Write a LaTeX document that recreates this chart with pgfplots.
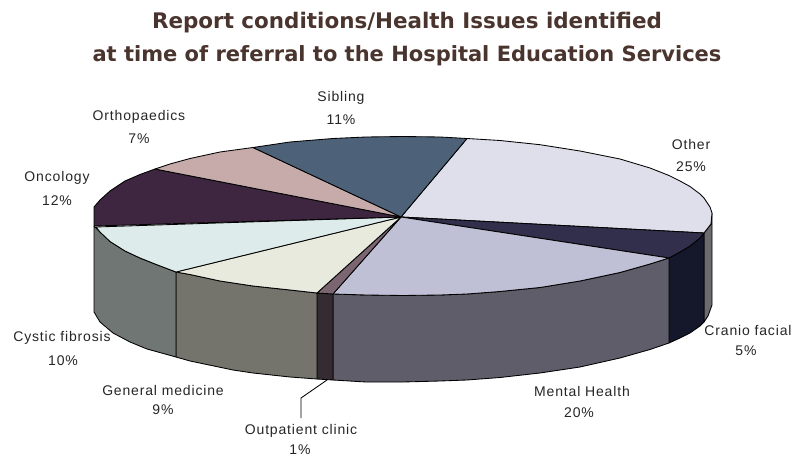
\documentclass[border=0pt]{standalone}
\usepackage{fontspec}
\usepackage{pgfplots}
\pgfplotsset{compat=1.18}
\setmainfont{Liberation Sans}
\newfontfamily\lab{Liberation Sans}[LetterSpace=6]
\newfontfamily\ttl{DejaVu Sans}[BoldFont={DejaVu Sans Bold}]
\definecolor{tt}{HTML}{4A342E}
\definecolor{cOther}{HTML}{DFDFEB}
\definecolor{cCran}{HTML}{312F4C}
\definecolor{cMent}{HTML}{BFC0D6}
\definecolor{cOut}{HTML}{7A6570}
\definecolor{cGen}{HTML}{E8EADE}
\definecolor{cCys}{HTML}{DEEBEB}
\definecolor{cOnc}{HTML}{3E2540}
\definecolor{cOrt}{HTML}{C7ABAB}
\definecolor{cSib}{HTML}{4D6278}
\definecolor{sCran}{HTML}{15172B}
\definecolor{sMent}{HTML}{5F5D6A}
\definecolor{sOut}{HTML}{352C33}
\definecolor{sGen}{HTML}{74746C}
\definecolor{sCys}{HTML}{6F7673}
\definecolor{sOther}{HTML}{6B6B70}
\pgfplotsset{sl/.style={draw=black,line width=0.85pt,line join=round,mark=none,fill=#1}}
\begin{document}
\begin{tikzpicture}
\begin{axis}[x=1pt,y=1pt,y dir=reverse,xmin=0,xmax=793,ymin=0,ymax=457,hide axis,clip=false,
  scale only axis]
\path[draw=none,fill=white] (axis cs:0,0) rectangle (axis cs:793,457);
% sides
\addplot[sl=sOther] coordinates {(704,233)(711,224)(712,213)(712,305)(708,316)(704,322)(704,233)};
\addplot[sl=sCran] coordinates {(669,258)(680,252)(690,246)(700,238)(704,233)(704,322)(700,326)(690,333)(680,338)(669,343)(669,258)};
\addplot[sl=sMent] coordinates {(333,294)(366,295)(403,295.5)(440,295)(467,294)(500,291.5)(540,287.5)(580,281)(620,272.5)(650,264)(669,258)(669,343)(650,349.5)(620,358)(580,367)(540,373)(500,377.5)(467,380)(440,381)(403,382)(366,382)(333,380)(333,294)};
\addplot[sl=sOut] coordinates {(317,293)(333,294)(333,380)(317,379)(317,293)};
\addplot[sl=sGen] coordinates {(176,272)(190,274.5)(220,281)(253,286)(290,290)(317,293)(317,379)(290,377)(253,373)(233,370)(190,361)(176,357)(176,272)};
\addplot[sl=sCys] coordinates {(94,226)(100,232)(110,241.5)(125,251)(140,258)(155,264)(176,272)(176,357)(147,349)(130,342)(113,333)(100,322)(94,312)(94,226)};
% top
\addplot[sl=cOther] coordinates {(401,217)(704,233)(711,224)(712,213)(710,207)(704,198)(700,194)(690,186.5)(680,181)(669,175.5)(650,168)(620,159)(580,151)(540,144.7)(500,140.5)(467,138.5)(401,217)};
\addplot[sl=cCran] coordinates {(401,217)(669,258)(680,252)(690,246)(700,238)(704,233)(401,217)};
\addplot[sl=cMent] coordinates {(401,217)(333,294)(366,295)(403,295.5)(440,295)(467,294)(500,291.5)(540,287.5)(580,281)(620,272.5)(650,264)(669,258)(401,217)};
\addplot[sl=cOut] coordinates {(401,217)(317,293)(333,294)(401,217)};
\addplot[sl=cGen] coordinates {(401,217)(176,272)(190,274.5)(220,281)(253,286)(290,290)(317,293)(401,217)};
\addplot[sl=cCys] coordinates {(401,217)(96,227)(100,232)(110,241.5)(125,251)(140,258)(155,264)(176,272)(401,217)};
\addplot[sl=cOnc] coordinates {(401,217)(94,226)(94,207)(100,200)(110,191)(125,181)(140,174.5)(155,169)(401,217)};
\addplot[sl=cOrt] coordinates {(401,217)(155,169)(170,164)(190,158.5)(220,152)(253,147.5)(401,217)};
\addplot[sl=cSib] coordinates {(401,217)(253,147.5)(290,142)(333,138.5)(366,137)(403,136.5)(440,137)(467,138.5)(401,217)};
% leader
\addplot[black,line width=0.85pt,mark=none] coordinates {(327,380)(301,398)(301,418)};
% title
\node[font=\ttl\bfseries\fontsize{21.45}{24}\selectfont,text=tt,anchor=center] at (axis cs:407,23) {Report conditions/Health Issues identified};
\node[font=\ttl\bfseries\fontsize{21}{24}\selectfont,text=tt,anchor=center] at (axis cs:407,55.5) {at time of referral to the Hospital Education Services};
% labels
\tikzset{lb/.style={font=\lab\fontsize{14}{16}\selectfont,text=black!85,anchor=center,inner sep=0pt}}
\node[lb] at (axis cs:341,98) {Sibling};
\node[lb] at (axis cs:341,120) {11\%};
\node[lb] at (axis cs:139,117) {Orthopaedics};
\node[lb] at (axis cs:139,139) {7\%};
\node[lb] at (axis cs:57,178) {Oncology};
\node[lb] at (axis cs:57,201) {12\%};
\node[lb] at (axis cs:691,144) {Other};
\node[lb] at (axis cs:691,167) {25\%};
\node[lb] at (axis cs:748,330) {Cranio facial};
\node[lb] at (axis cs:746,351) {5\%};
\node[lb] at (axis cs:582,391) {Mental Health};
\node[lb] at (axis cs:579,413) {20\%};
\node[lb] at (axis cs:163,390) {General medicine};
\node[lb] at (axis cs:163,410) {9\%};
\node[lb] at (axis cs:62,338) {Cystic fibrosis};
\node[lb] at (axis cs:63,361) {10\%};
\node[lb] at (axis cs:301,431) {Outpatient clinic};
\node[lb] at (axis cs:300,450) {1\%};
\end{axis}
\end{tikzpicture}
\end{document}
